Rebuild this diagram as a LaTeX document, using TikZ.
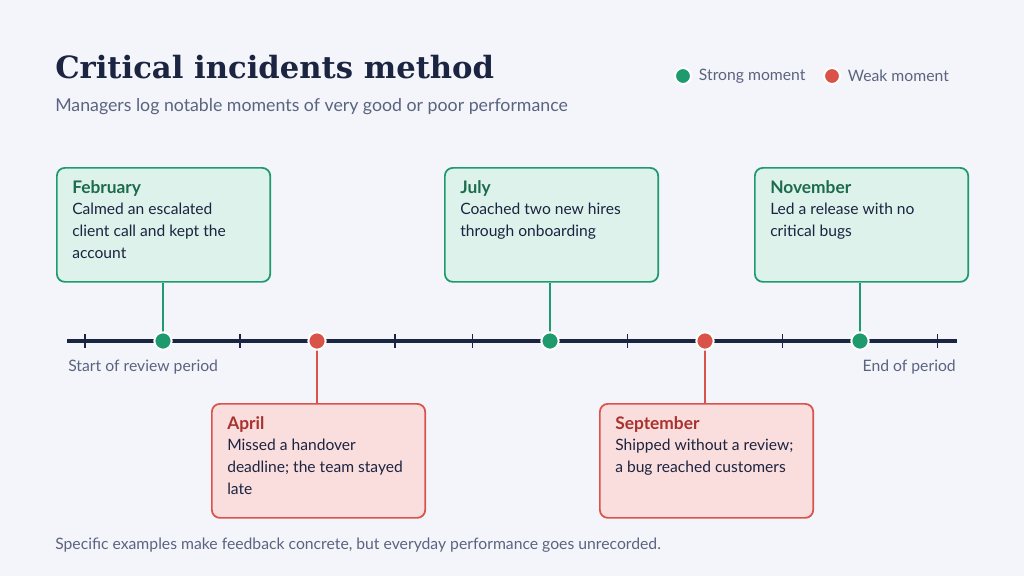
\documentclass[tikz,border=0pt]{standalone}
\usepackage{fontspec}
\setmainfont{Lato}
\newfontfamily\titlefont{DejaVu Serif}
\usetikzlibrary{positioning}
\definecolor{bgc}{HTML}{F4F5FA}
\definecolor{navy}{HTML}{1B2440}
\definecolor{greyt}{HTML}{5A6480}
\definecolor{goodc}{HTML}{1E9A6E}
\definecolor{goodf}{HTML}{DDF2EA}
\definecolor{goodt}{HTML}{1D6B4E}
\definecolor{badc}{HTML}{D9534A}
\definecolor{badf}{HTML}{FADDDD}
\definecolor{badt}{HTML}{A8322D}
\tikzset{
  card/.style={draw=#1c, fill=#1f, line width=1.3pt, rounded corners=6pt,
    minimum width=160pt, minimum height=85.5pt, anchor=north west},
  head/.style={anchor=north west, font=\fontsize{13}{15}\selectfont\bfseries, text=#1t, inner sep=0pt},
  body/.style={anchor=north west, font=\fontsize{11.7}{16.3}\selectfont, text=navy, inner sep=0pt, align=left},
  dot/.style={circle, fill=#1c, draw=white, line width=1.5pt, minimum size=13pt, inner sep=0pt},
  note/.style={font=\fontsize{11.8}{13}\selectfont, text=greyt, inner sep=0pt},
}
\begin{document}
\begin{tikzpicture}[x=0.75pt,y=-0.75pt]
\fill[bgc] (0,0) rectangle (1024,576);
\useasboundingbox (0,0) rectangle (1024,576);
% heading
\node[anchor=base west, inner sep=0pt, font=\titlefont\fontsize{23}{28}\selectfont\bfseries, text=navy] (title) at (55,78) {Critical incidents method};
\node[anchor=base west, note, font=\fontsize{13.3}{15}\selectfont] (sub) at (55,111) {Managers log notable moments of very good or poor performance};
\node[dot=good, minimum size=12pt] (lgood) at (683,76) {};
\node[note, anchor=west, right=5pt of lgood] (lgoodt) {Strong moment};
\node[dot=bad, minimum size=12pt] (lbad) at (832,76) {};
\node[note, anchor=west, right=5pt of lbad] (lbadt) {Weak moment};
% axis
\coordinate (ax0) at (67,341);
\coordinate (ax1) at (957,341);
\draw[navy, line width=2.6pt] (ax0) -- (ax1);
\foreach \k in {0,2,4,5,7,9,11}
  \draw[navy, line width=1.2pt] (85+77.5*\k,334) -- (85+77.5*\k,348);
\node[note, anchor=base west] (start) at (68,371) {Start of review period};
\node[note, anchor=base east] (end) at (956,371) {End of period};
% moments
\foreach \name/\kind/\x/\cy/\edge/\mx/\mon/\txt in {
  feb/good/56/167/south/163/February/{Calmed an escalated\\client call and kept the\\account},
  jul/good/444/167/south/550/July/{Coached two new hires\\through onboarding},
  nov/good/754/167/south/860/November/{Led a release with no\\critical bugs},
  apr/bad/211/403/north/317/April/{Missed a handover\\deadline; the team stayed\\late},
  sep/bad/599/403/north/705/September/{Shipped without a review;\\a bug reached customers}} {
  \node[card=\kind] (\name) at (\x,\cy) {};
  \node[head=\kind] (\name h) at (\x+16,\cy+13) {\mon};
  \node[body] (\name b) at (\x+16,\cy+36) {\txt};
  \coordinate (\name p) at (\mx,341);
  \draw[\kind c, line width=1.5pt] (\name p) -- (\name p |- \name.\edge);
  \node[dot=\kind] (\name d) at (\name p) {};
}
\node[note, anchor=base west] (foot) at (55,549) {Specific examples make feedback concrete, but everyday performance goes unrecorded.};
\end{tikzpicture}
\end{document}
